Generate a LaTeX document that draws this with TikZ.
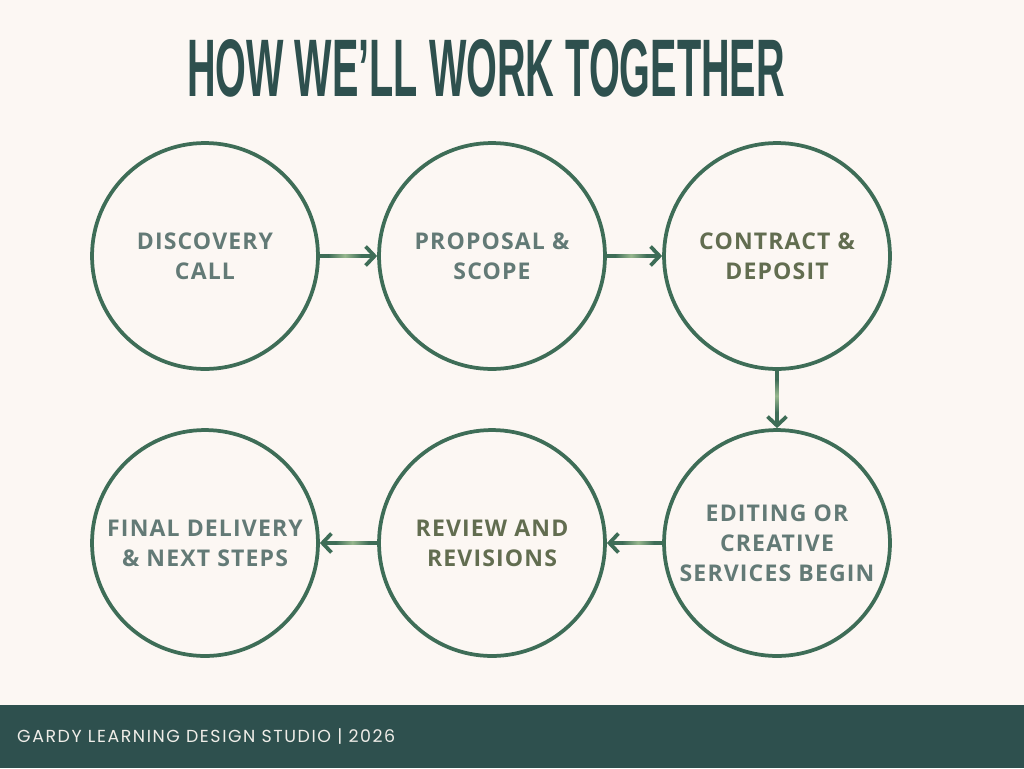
\documentclass[tikz,border=0pt]{standalone}
\usepackage{fontspec}
\usepackage{graphicx}
\usetikzlibrary{arrows.meta,calc}
\setmainfont{Open Sans}
\newfontfamily\titlefont{Liberation Sans}
\newfontfamily\stepfont[LetterSpace=5]{Open Sans}
\newfontfamily\footfont[LetterSpace=9]{Poppins}
\definecolor{paper}{HTML}{FCF7F3}
\definecolor{band}{HTML}{2E504E}
\definecolor{ring}{HTML}{3E6D57}
\definecolor{glow}{HTML}{97B78E}
\definecolor{slate}{HTML}{637A76}
\definecolor{olive}{HTML}{626D50}
\definecolor{foot}{HTML}{EFEDE8}

\begin{document}
\begin{tikzpicture}[
  x=0.02cm, y=-0.02cm,
  stepnode/.style={circle, draw=ring, line width=0.075cm, minimum size=4.52cm,
    inner sep=0pt, align=center, text=slate,
    font=\stepfont\bfseries\fontsize{13.1}{17}\selectfont},
  flow/.style={draw=ring, line width=0.075cm,
    -{Straight Barb[length=0.18cm,width=0.38cm,line width=0.075cm]}},
  hglow/.style={left color=ring, right color=ring, middle color=glow},
  vglow/.style={top color=ring, bottom color=ring, middle color=glow}
]
\fill[paper] (0,0) rectangle (1024,768);
\fill[band] (0,705) rectangle (1024,768);

\node (title) at (486,68) {\color{band}\resizebox{11.96cm}{1.14cm}{\titlefont\bfseries HOW WE’LL WORK TOGETHER}};

% top row
\node[stepnode] (call) at (205,256) {DISCOVERY\\CALL};
\node[stepnode] (scope) at (492,256) {PROPOSAL \&\\SCOPE};
\node[stepnode, text=olive] (deposit) at (777,256) {CONTRACT \&\\DEPOSIT};
% bottom row
\node[stepnode] (begin) at (777,543) {EDITING OR\\CREATIVE\\SERVICES BEGIN};
\node[stepnode, text=olive] (review) at (492,543) {REVIEW AND\\REVISIONS};
\node[stepnode] (final) at (205,543) {FINAL DELIVERY\\\& NEXT STEPS};

\draw[flow] (call) -- (scope);
\draw[flow] (scope) -- (deposit);
\draw[flow] (deposit) -- (begin);
\draw[flow] (begin) -- (review);
\draw[flow] (review) -- (final);

% light middle of the connectors
\shade[hglow] ($(call.east)!0.15!(scope.west)+(0,-1.9)$) rectangle ($(call.east)!0.72!(scope.west)+(0,1.9)$);
\shade[hglow] ($(scope.east)!0.15!(deposit.west)+(0,-1.9)$) rectangle ($(scope.east)!0.72!(deposit.west)+(0,1.9)$);
\shade[vglow] ($(deposit.south)!0.15!(begin.north)+(-1.9,0)$) rectangle ($(deposit.south)!0.72!(begin.north)+(1.9,0)$);
\shade[hglow] ($(review.east)!0.28!(begin.west)+(0,-1.9)$) rectangle ($(review.east)!0.85!(begin.west)+(0,1.9)$);
\shade[hglow] ($(final.east)!0.28!(review.west)+(0,-1.9)$) rectangle ($(final.east)!0.85!(review.west)+(0,1.9)$);

\node[anchor=west, text=foot, font=\footfont\fontsize{9.9}{12}\selectfont] (studio) at (11,736) {GARDY LEARNING DESIGN STUDIO | 2026};
\end{tikzpicture}
\end{document}
